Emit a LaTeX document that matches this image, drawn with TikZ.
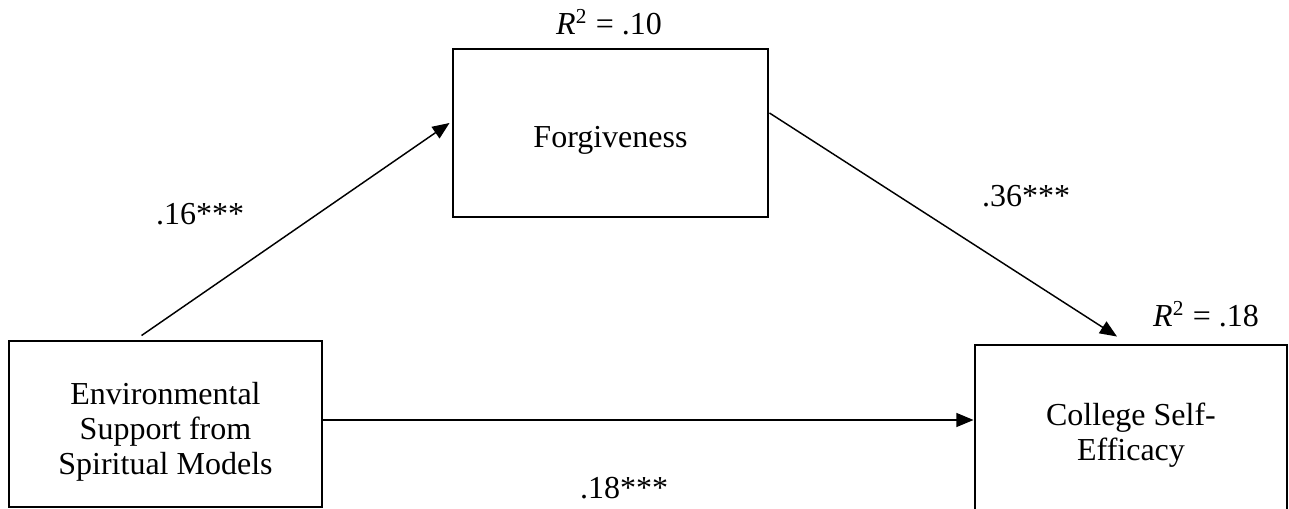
\documentclass[tikz,border=0pt]{standalone}
\usepackage{fontspec}
\setmainfont{Liberation Serif}
\usetikzlibrary{arrows.meta}
\tikzset{
  boxnode/.style={draw, line width=1.1pt, inner sep=0pt},
  boxtext/.style={align=center, inner sep=0pt, font=\fontsize{12pt}{13.2pt}\selectfont},
  arr/.style={-{Triangle[length=6.4pt,width=5.2pt]}, line width=0.55pt},
  lab/.style={anchor=base, inner sep=0pt, font=\fontsize{12pt}{13.2pt}\selectfont}
}
\begin{document}
\begin{tikzpicture}[x=0.375pt,y=-0.375pt]
\useasboundingbox (0,0) rectangle (1289,509);
\begin{scope}
\clip (0,0) rectangle (1289,509);
\node[boxnode, minimum width=313*0.375pt, minimum height=166*0.375pt] (env) at (165.5,424) {};
\node[boxnode, minimum width=315*0.375pt, minimum height=168*0.375pt] (forg) at (610.5,133) {};
\node[boxnode, minimum width=312*0.375pt, minimum height=174*0.375pt] (cse) at (1131,432) {};
\end{scope}
\node[boxtext] (envt) at ([shift={(0,8)}]env.center) {Environmental\\Support from\\Spiritual Models};
\node[boxtext] (forgt) at ([shift={(0,7)}]forg.center) {Forgiveness};
\node[boxtext] (cset) at ([shift={(0,3)}]cse.center) {College Self-\\Efficacy};
\draw[arr] ([shift={(134,-4)}]env.north west) -- ([shift={(-2,-10)}]forg.west);
\draw[arr] ([shift={(0,-20)}]forg.east) -- ([shift={(-14,-7)}]cse.north);
\draw[arr] ([shift={(0,-4)}]env.east) -- ([shift={(0,-4)}]env.east -| cse.west);
\node[lab] (r10) at (609,35) {\textit{R}\textsuperscript{2} = .10};
\node[lab] (r18) at (1206,327) {\textit{R}\textsuperscript{2} = .18};
\node[lab] (c16) at (200,225) {.16***};
\node[lab] (c36) at (1026,207) {.36***};
\node[lab] (c18) at (624,498) {.18***};
\end{tikzpicture}
\end{document}
